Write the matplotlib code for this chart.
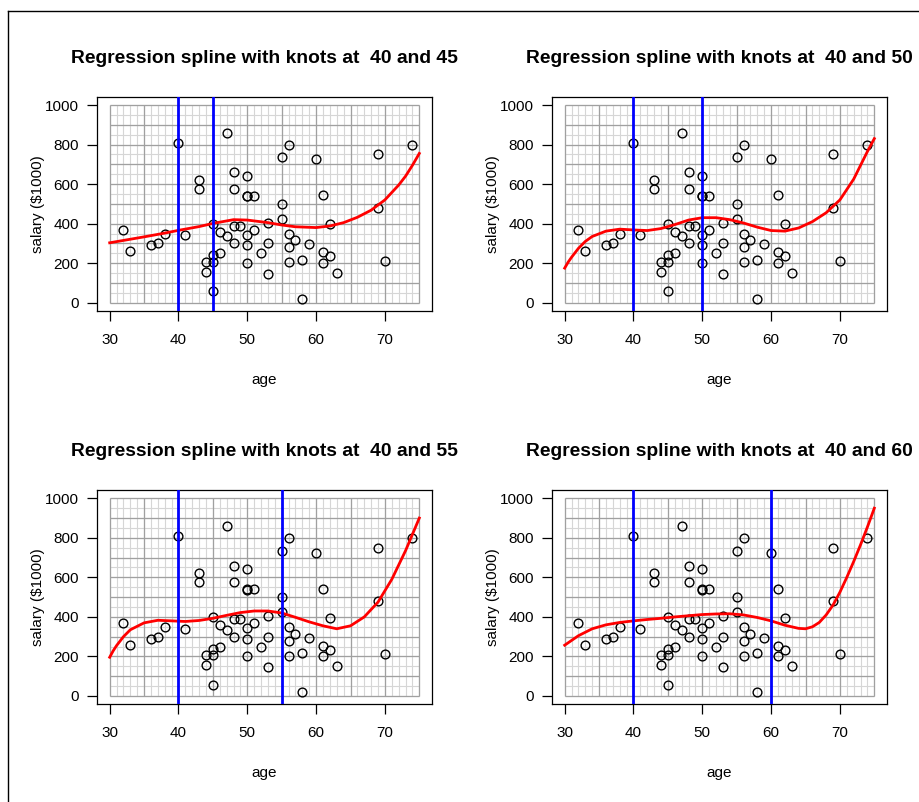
import matplotlib
matplotlib.use("Agg")
import matplotlib.pyplot as plt
from matplotlib.lines import Line2D

plt.rcParams['font.family'] = ['Liberation Sans', 'DejaVu Sans']

# data (same in every panel)
age = [32, 33, 36, 37, 38, 40, 41, 43, 43, 44, 44, 45, 45, 45, 45, 46, 46,
       47, 47, 48, 48, 48, 48, 49, 50, 50, 50, 50, 50, 50, 51, 51, 52, 53,
       53, 53, 55, 55, 55, 56, 56, 56, 56, 57, 58, 58, 59, 60, 61, 61, 61,
       62, 62, 63, 69, 69, 70, 74]
salary = [370, 260, 290, 300, 350, 808, 340, 620, 575, 155, 205, 400, 240,
          205, 57, 360, 250, 860, 335, 660, 575, 390, 300, 390, 640, 542,
          538, 342, 290, 200, 540, 368, 250, 405, 300, 145, 735, 500, 425,
          800, 350, 280, 204, 315, 216, 20, 295, 725, 543, 255, 200, 396,
          234, 150, 750, 480, 210, 800]

knot_pairs = [(40, 45), (40, 50), (40, 55), (40, 60)]

# fitted spline curves
fit_age_1 = [30, 32, 35, 38, 40, 43, 45, 48, 50, 53, 55, 57, 60, 62, 64, 66,
             68, 70, 72, 73, 74, 75]
fit_sal_1 = [303, 315, 333, 352, 366, 385, 401, 420, 418, 405, 393, 384, 380,
             388, 405, 432, 468, 520, 595, 640, 695, 755]

fit_age_2 = [30, 30.5, 31, 32, 33, 34, 36, 38, 40, 42, 44, 46, 48, 50, 52,
             54, 56, 58, 60, 62, 64, 66, 68, 70, 72, 74, 75]
fit_sal_2 = [175, 205, 230, 275, 310, 335, 362, 372, 368, 365, 375, 395, 418,
             430, 430, 420, 403, 382, 365, 362, 378, 410, 455, 520, 625, 765,
             830]

fit_age_3 = [30, 30.5, 31, 32, 33, 35, 37, 39, 41, 43, 45, 47, 49, 51, 53,
             55, 57, 59, 61, 63, 65, 67, 69, 71, 73, 75]
fit_sal_3 = [196, 228, 255, 300, 335, 370, 383, 380, 377, 382, 393, 408, 422,
             430, 430, 420, 398, 375, 355, 340, 355, 400, 475, 590, 735, 900]

fit_age_4 = [30, 32, 34, 36, 38, 40, 42, 44, 46, 48, 50, 52, 54, 56, 58, 60,
             62, 64, 65, 66, 67, 68, 69, 70, 71, 72, 73, 74, 75]
fit_sal_4 = [257, 305, 340, 360, 372, 380, 387, 393, 400, 406, 412, 415, 416,
             410, 397, 380, 358, 342, 340, 350, 372, 410, 460, 525, 600, 680,
             765, 855, 950]

fit_ages = [fit_age_1, fit_age_2, fit_age_3, fit_age_4]
fit_sals = [fit_sal_1, fit_sal_2, fit_sal_3, fit_sal_4]

x_ticks = [30, 40, 50, 60, 70]
y_ticks = [0, 200, 400, 600, 800, 1000]

W, H = 920, 802


def draw_grid(ax):
    """Fine grid (1 year / 50) and coarse grid (5 years / 100) over the data range."""
    minor_v = list(range(30, 76, 1))
    minor_h = list(range(0, 1001, 50))
    major_v = list(range(30, 76, 5))
    major_h = list(range(0, 1001, 100))
    ax.vlines(minor_v, 0, 1000, color='#d6d6d6', lw=0.8, zorder=1)
    ax.hlines(minor_h, 30, 75, color='#d6d6d6', lw=0.8, zorder=1)
    ax.vlines(major_v, 0, 1000, color='#a0a0a0', lw=0.9, zorder=1.5)
    ax.hlines(major_h, 30, 75, color='#a0a0a0', lw=0.9, zorder=1.5)


fig = plt.figure(figsize=(W / 100, H / 100), dpi=100)

# axes boxes in pixels: left, top
boxes = [(97.3, 97.1), (552.3, 97.1), (97.3, 490.4), (552.3, 490.4)]
bw, bh = 334.4, 213.5

for i, ((left, top), knots) in enumerate(zip(boxes, knot_pairs)):
    ax = fig.add_axes([left / W, 1 - (top + bh) / H, bw / W, bh / H])
    draw_grid(ax)
    ax.plot(age, salary, 'o', mfc='none', mec='black', ms=6.3, mew=1.0, zorder=3)
    ax.plot(fit_ages[i], fit_sals[i], color='#ff0000', lw=2.0, zorder=4,
            solid_joinstyle='round')
    for k in knots:
        ax.axvline(k, color='#0000ff', lw=2.0, zorder=5)

    ax.set_xlim(28.2, 76.8)
    ax.set_ylim(-40, 1040)
    ax.set_xticks(x_ticks)
    ax.set_yticks(y_ticks)
    ax.tick_params(direction='out', length=7, width=0.9, labelsize=11,
                   colors='black')
    ax.tick_params(axis='x', pad=9)
    ax.tick_params(axis='y', pad=6)
    for s in ax.spines.values():
        s.set_color('black')
        s.set_linewidth(0.9)

    ax.set_xlabel('age', fontsize=11)
    ax.xaxis.set_label_coords(0.5, -0.29)
    ax.set_ylabel('salary ($1000)', fontsize=11)
    ax.yaxis.set_label_coords(-0.155, 0.5)
    ax.text(0.5, 1 + 39 / bh,
            'Regression spline with knots at  %d and %d' % knots,
            transform=ax.transAxes, ha='center', va='center',
            fontsize=13.9, fontweight='bold')

# outer frame of the original device (left and top edges)
fig.add_artist(Line2D([8 / W, 8 / W], [0, 1 - 11 / H], color='black', lw=1.0))
fig.add_artist(Line2D([8 / W, 1], [1 - 11 / H, 1 - 11 / H], color='black', lw=1.0))

fig.savefig('out.png', dpi=100)
